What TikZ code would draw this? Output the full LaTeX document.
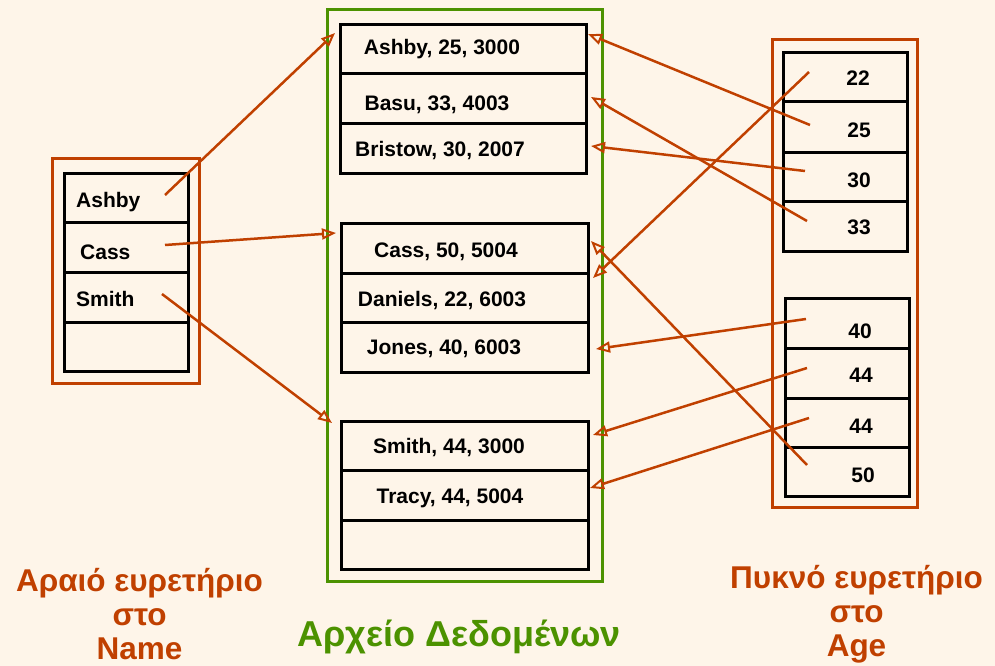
\documentclass[tikz,border=0pt]{standalone}
\usepackage{fontspec}
\setmainfont{Liberation Sans}
\usetikzlibrary{arrows.meta}
\definecolor{bg}{RGB}{254,245,233}
\definecolor{ptrred}{RGB}{192,64,0}
\definecolor{filegreen}{RGB}{76,146,0}
\begin{document}
\begin{tikzpicture}[x=1pt,y=-1pt,
  cell/.style={draw=black,line width=3pt},
  rowtext/.style={font=\fontsize{21}{25}\selectfont\bfseries,inner sep=0pt,anchor=base},
  ptr/.style={draw=ptrred,line width=2.5pt,-{Triangle[open,length=14pt,width=11pt,line width=2pt]}},
  frame/.style={line width=3pt},
  caption/.style={font=\fontsize{31.5}{34}\selectfont\bfseries,text=ptrred,align=center,inner sep=0pt}]
\useasboundingbox[fill=bg] (0,0) rectangle (995,666);

% ---------- sparse index on Name ----------
\draw[frame,draw=ptrred] (52,158) rectangle (199,383);
\draw[cell] (64,173) rectangle (188,371);
\foreach \y in {222,272,322} \draw[cell] (64,\y) -- (188,\y);
\node[rowtext,anchor=base west] (nAshby) at (76,207) {Ashby};
\node[rowtext,anchor=base west] (nCass) at (80,259) {Cass};
\node[rowtext,anchor=base west] (nSmith) at (76,306) {Smith};

% ---------- data file ----------
\draw[frame,draw=filegreen] (327,10) rectangle (602,581);
\draw[cell] (340,25) rectangle (586,173);
\foreach \y in {74,124} \draw[cell] (340,\y) -- (586,\y);
\draw[cell] (341,223) rectangle (588,372);
\foreach \y in {273,322} \draw[cell] (341,\y) -- (588,\y);
\draw[cell] (341,421) rectangle (588,569);
\foreach \y in {470,520} \draw[cell] (341,\y) -- (588,\y);

\node[rowtext] (dAshby) at (442,55) {Ashby, 25, 3000};
\node[rowtext] (dBasu) at (437,111) {Basu, 33, 4003};
\node[rowtext] (dBristow) at (440,156) {Bristow, 30, 2007};
\node[rowtext] (dCass) at (446,257) {Cass, 50, 5004};
\node[rowtext] (dDaniels) at (442,306) {Daniels, 22, 6003};
\node[rowtext] (dJones) at (444,354) {Jones, 40, 6003};
\node[rowtext] (dSmith) at (449,453) {Smith, 44, 3000};
\node[rowtext] (dTracy) at (450,503) {Tracy, 44, 5004};

% ---------- dense index on Age ----------
\draw[frame,draw=ptrred] (772,40) rectangle (917,507);
\draw[cell] (783,53) rectangle (907,251);
\foreach \y in {102,152,201} \draw[cell] (783,\y) -- (907,\y);
\draw[cell] (785,298) rectangle (909,496);
\foreach \y in {348,398,447} \draw[cell] (785,\y) -- (909,\y);

\node[rowtext] (a22) at (858,86) {22};
\node[rowtext] (a25) at (859,138) {25};
\node[rowtext] (a30) at (859,187) {30};
\node[rowtext] (a33) at (859,234) {33};
\node[rowtext] (a40) at (860,338) {40};
\node[rowtext] (a44a) at (861,382) {44};
\node[rowtext] (a44b) at (861,433) {44};
\node[rowtext] (a50) at (863,482) {50};

% ---------- pointer coordinates ----------
\coordinate (sAshby) at (165,195);
\coordinate (sCass) at (165,245);
\coordinate (sSmith) at (162,294);
\coordinate (tB1) at (335,33);
\coordinate (tB2) at (336,233);
\coordinate (tB3) at (332,423);

\coordinate (s22) at (809,72);
\coordinate (s25) at (810,125);
\coordinate (s30) at (805,171);
\coordinate (s33) at (807,221);
\coordinate (s40) at (806,319);
\coordinate (s44a) at (807,368);
\coordinate (s44b) at (809,418);
\coordinate (s50) at (807,465);

\coordinate (rAshby) at (588,34);
\coordinate (rBasu) at (591,97);
\coordinate (rBristow) at (591,146);
\coordinate (rCass) at (591,241);
\coordinate (rDaniels) at (593,278);
\coordinate (rJones) at (596,349);
\coordinate (rSmith) at (593,435);
\coordinate (rTracy) at (590,488);

% ---------- pointers ----------
\draw[ptr] (sAshby) -- (tB1);
\draw[ptr] (sCass) -- (tB2);
\draw[ptr] (sSmith) -- (tB3);
\draw[ptr] (s22) -- (rDaniels);
\draw[ptr] (s25) -- (rAshby);
\draw[ptr] (s30) -- (rBristow);
\draw[ptr] (s33) -- (rBasu);
\draw[ptr] (s40) -- (rJones);
\draw[ptr] (s44a) -- (rSmith);
\draw[ptr] (s44b) -- (rTracy);
\draw[ptr] (s50) -- (rCass);

% ---------- captions ----------
\node[caption] (capName) at (139.5,614) {Αραιό ευρετήριο\\στο\\Name};
\node[caption] (capAge) at (856.5,614) {Πυκνό ευρετήριο\\στο\\Age};
\node[font=\fontsize{36}{40}\selectfont\bfseries,text=filegreen,inner sep=0pt,anchor=base] (capFile) at (459,646) {Αρχείο Δεδομένων};
\end{tikzpicture}
\end{document}
